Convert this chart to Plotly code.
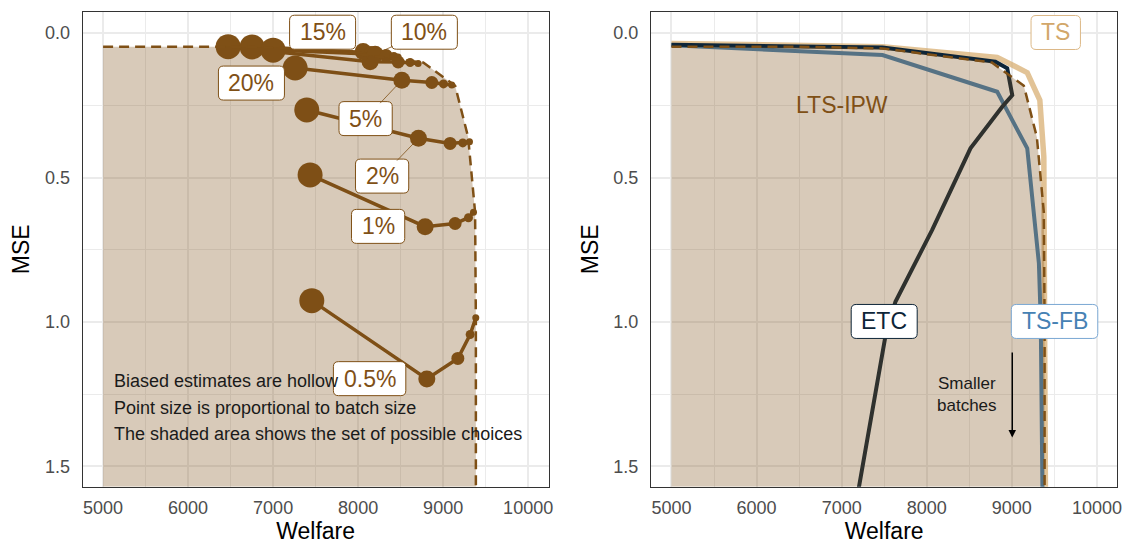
import plotly.graph_objects as go
from plotly.subplots import make_subplots

# ---------------- data ----------------
# Left panel: one series per label; points run from the largest batch to the smallest
series_labels = ["20%", "15%", "10%", "5%", "2%", "1%", "0.5%"]
welfare_20 = [6471, 8141, 8471, 8612, 8706]
mse_20 = [0.047, 0.099, 0.100, 0.102, 0.105]
welfare_15 = [6753, 8059, 8150, 8230, 8280]
mse_15 = [0.048, 0.064, 0.067, 0.069, 0.070]
welfare_10 = [7000, 8200, 8330, 8420, 8470]
mse_10 = [0.059, 0.073, 0.078, 0.081, 0.083]
welfare_5 = [7259, 8514, 8867, 9004, 9102]
mse_5 = [0.121, 0.163, 0.171, 0.176, 0.180]
welfare_2 = [7396, 8710, 9082, 9231, 9310]
mse_2 = [0.266, 0.364, 0.382, 0.380, 0.376]
welfare_1 = [7435, 8788, 9141, 9298, 9357]
mse_1 = [0.491, 0.670, 0.659, 0.639, 0.620]
welfare_05 = [7455, 8808, 9173, 9318, 9384]
mse_05 = [0.926, 1.197, 1.126, 1.043, 0.985]

# Marker diameters, shrinking with batch size
batch_marker_size = [25, 17, 13, 9, 7]

# Frontier of attainable (welfare, MSE) pairs
frontier_welfare = [5000, 6471, 7480, 8765, 9141, 9294, 9376, 9385, 9385]
frontier_mse = [0.047, 0.047, 0.053, 0.102, 0.182, 0.360, 0.620, 1.000, 1.570]

# Right panel curves
ts_welfare = [5000, 7480, 8828, 9181, 9329, 9376, 9385, 9395]
ts_mse = [0.036, 0.047, 0.084, 0.137, 0.232, 0.428, 1.000, 1.600]
tsfb_welfare = [5000, 7480, 8828, 9181, 9318, 9340, 9360]
tsfb_mse = [0.042, 0.076, 0.203, 0.399, 0.797, 1.000, 1.600]
etc_welfare = [5000, 7480, 8807, 8946, 9005, 8887, 8514, 8064, 7632, 7514, 7186]
etc_mse = [0.040, 0.050, 0.099, 0.122, 0.215, 0.255, 0.399, 0.681, 0.930, 1.050, 1.600]

x_ticks = [5000, 6000, 7000, 8000, 9000, 10000]
x_tick_text = ["5000", "6000", "7000", "8000", "9000", "10000"]
y_ticks = [0.0, 0.5, 1.0, 1.5]
y_tick_text = ["0.0", "0.5", "1.0", "1.5"]

# ---------------- styling ----------------
BROWN = "#7f5016"
FILL = "rgba(127,80,22,0.30)"
TS_COLOR = "#d2a76a"
TS_LINE = "rgba(214,170,106,0.70)"
FB_COLOR = "#4682b4"
ETC_COLOR = "#0d2538"
FONT = "Liberation Sans, Arial, sans-serif"
LABEL_SIZE = 23
W_PX, H_PX = 1125, 544

X_RANGE = [4760, 10240]
Y_RANGE = [1.570, -0.074]
X_DOMAINS = {1: [0.0735, 0.4876], 2: [0.5787, 0.9932]}
Y_DOMAIN = [0.1053, 0.9785]

fig = make_subplots(rows=1, cols=2, horizontal_spacing=0.05)

series = [
    (welfare_20, mse_20), (welfare_15, mse_15), (welfare_10, mse_10),
    (welfare_5, mse_5), (welfare_2, mse_2), (welfare_1, mse_1), (welfare_05, mse_05),
]
for name, (w, m) in zip(series_labels, series):
    fig.add_trace(go.Scatter(
        x=w, y=m, mode="lines+markers", name=name,
        line=dict(color=BROWN, width=3.5),
        marker=dict(color=BROWN, size=batch_marker_size, opacity=1, line=dict(width=0)),
        showlegend=False, hoverinfo="skip"), row=1, col=1)

# Right panel strategy curves (drawn beneath the shaded region)
fig.add_trace(go.Scatter(x=ts_welfare, y=ts_mse, mode="lines",
                         line=dict(color=TS_LINE, width=5.5), showlegend=False), row=1, col=2)
fig.add_trace(go.Scatter(x=tsfb_welfare, y=tsfb_mse, mode="lines",
                         line=dict(color=FB_COLOR, width=4), showlegend=False), row=1, col=2)
fig.add_trace(go.Scatter(x=etc_welfare, y=etc_mse, mode="lines",
                         line=dict(color=ETC_COLOR, width=4), showlegend=False), row=1, col=2)

# Shaded feasible set and its dashed boundary, in both panels
poly_w = frontier_welfare + [frontier_welfare[0]]
poly_m = frontier_mse[:-1] + [frontier_mse[-1], frontier_mse[-1]]
for col in (1, 2):
    fig.add_trace(go.Scatter(x=poly_w, y=poly_m, mode="lines", fill="toself",
                             fillcolor=FILL, line=dict(width=0),
                             showlegend=False, hoverinfo="skip"), row=1, col=col)
    fig.add_trace(go.Scatter(x=frontier_welfare, y=frontier_mse, mode="lines",
                             line=dict(color=BROWN, width=2.5, dash="10px,6px"),
                             showlegend=False, hoverinfo="skip"), row=1, col=col)

# ---------------- axes ----------------
for col in (1, 2):
    fig.update_xaxes(
        row=1, col=col, domain=X_DOMAINS[col], range=X_RANGE, automargin=False,
        tickvals=x_ticks, ticktext=x_tick_text,
        showgrid=True, gridcolor="#ebebeb", gridwidth=1.5,
        minor=dict(dtick=500, tick0=5000, showgrid=True, gridcolor="#ebebeb", gridwidth=1.2),
        showline=True, mirror=True, linecolor="#333333", linewidth=1.3,
        ticks="", zeroline=False, ticklabelstandoff=5,
        tickfont=dict(family=FONT, size=18, color="#4d4d4d"),
        title=dict(text="Welfare", font=dict(family=FONT, size=23, color="black"), standoff=4))
    fig.update_yaxes(
        row=1, col=col, domain=Y_DOMAIN, range=Y_RANGE, automargin=False,
        tickvals=y_ticks, ticktext=y_tick_text,
        showgrid=True, gridcolor="#ebebeb", gridwidth=1.5,
        minor=dict(dtick=0.25, tick0=0, showgrid=True, gridcolor="#ebebeb", gridwidth=1.2),
        showline=True, mirror=True, linecolor="#333333", linewidth=1.3,
        ticks="", zeroline=False, ticklabelstandoff=8,
        tickfont=dict(family=FONT, size=18, color="#4d4d4d"),
        title=dict(text="MSE", font=dict(family=FONT, size=23, color="black"), standoff=8))

# ---------------- labels ----------------
def text_width(s, size):
    widths = {".": 0.278, "%": 0.889, "-": 0.333, "T": 0.611, "S": 0.667, "F": 0.611,
              "B": 0.667, "E": 0.667, "C": 0.722}
    return sum(widths.get(c, 0.556) for c in s) * size


def to_paper(col, w, m):
    x0, x1 = X_DOMAINS[col]
    y0, y1 = Y_DOMAIN
    px = x0 + (w - X_RANGE[0]) / (X_RANGE[1] - X_RANGE[0]) * (x1 - x0)
    py = y0 + (Y_RANGE[0] - m) / (Y_RANGE[0] - Y_RANGE[1]) * (y1 - y0)
    return px, py


def rounded_box(col, w, m, width_px, height_px, border, radius=5):
    cx, cy = to_paper(col, w, m)
    hw, hh = width_px / 2 / W_PX, height_px / 2 / H_PX
    rx, ry = radius / W_PX, radius / H_PX
    l, r, b, t = cx - hw, cx + hw, cy - hh, cy + hh
    path = (f"M {l + rx},{b} L {r - rx},{b} Q {r},{b} {r},{b + ry} "
            f"L {r},{t - ry} Q {r},{t} {r - rx},{t} L {l + rx},{t} "
            f"Q {l},{t} {l},{t - ry} L {l},{b + ry} Q {l},{b} {l + rx},{b} Z")
    return dict(type="path", path=path, xref="paper", yref="paper",
                fillcolor="white", line=dict(color=border, width=1), layer="above")


shapes = []
annotations = []


def boxed(text, col, x, y, color, border, point=None, standoff=0):
    xref, yref = ("x", "y") if col == 1 else ("x2", "y2")
    width_px = text_width(text, LABEL_SIZE) + 20
    shapes.append(rounded_box(col, x, y, width_px, 34, border))
    ann = dict(text=text, x=x, y=y, xref=xref, yref=yref,
               font=dict(family=FONT, size=LABEL_SIZE, color=color),
               width=width_px - 4, height=30, borderpad=0,
               showarrow=False, xanchor="center", yanchor="middle")
    if point is not None:
        ann.update(x=point[0], y=point[1], ax=x, ay=y, axref=xref, ayref=yref,
                   showarrow=True, arrowhead=0, arrowwidth=0.8, arrowcolor=BROWN,
                   standoff=standoff)
    annotations.append(ann)


# Series labels (left panel); some are tied to their point with a leader line
label_pos = {
    "15%": (7582, -0.003, None),
    "10%": (8779, -0.003, (welfare_10[1], mse_10[1])),
    "20%": (6745, 0.173, None),
    "5%": (8088, 0.296, (welfare_5[1], mse_5[1])),
    "2%": (8282, 0.495, (welfare_2[1], mse_2[1])),
    "1%": (8235, 0.669, None),
    "0.5%": (8135, 1.196, None),
}
for lab in series_labels:
    lx, ly, pt = label_pos[lab]
    boxed(lab, 1, lx, ly, BROWN, BROWN, point=pt, standoff=8)

# Right panel labels
boxed("TS", 2, 9516, -0.002, TS_COLOR, "#dcb886")
boxed("ETC", 2, 7500, 0.998, ETC_COLOR, ETC_COLOR)
boxed("TS-FB", 2, 9502, 0.998, FB_COLOR, "#7aa7d3")
annotations.append(dict(text="LTS-IPW", x=7005, y=0.249, xref="x2", yref="y2",
                        showarrow=False, font=dict(family=FONT, size=LABEL_SIZE, color=BROWN)))

annotations.append(dict(text="Smaller<br>batches", x=8479, y=1.251, xref="x2", yref="y2",
                        showarrow=False, align="center",
                        font=dict(family=FONT, size=17, color="#1a1a1a")))
annotations.append(dict(text="", x=9005, y=1.40, ax=9005, ay=1.10, xref="x2", yref="y2",
                        axref="x2", ayref="y2", showarrow=True, arrowhead=2,
                        arrowsize=1, arrowwidth=1.5, arrowcolor="black"))

notes = ["Biased estimates are hollow",
         "Point size is proportional to batch size",
         "The shaded area shows the set of possible choices"]
for note, ny in zip(notes, [1.205, 1.298, 1.388]):
    annotations.append(dict(text=note, x=5106, y=ny, xref="x", yref="y",
                            showarrow=False, xanchor="left", yanchor="middle",
                            font=dict(family=FONT, size=18, color="#1a1a1a")))

fig.update_layout(
    width=W_PX, height=H_PX,
    margin=dict(l=0, r=0, t=0, b=0),
    paper_bgcolor="white", plot_bgcolor="white",
    showlegend=False,
    shapes=shapes,
    annotations=annotations,
    font=dict(family=FONT),
)

fig.write_html("out.html")
